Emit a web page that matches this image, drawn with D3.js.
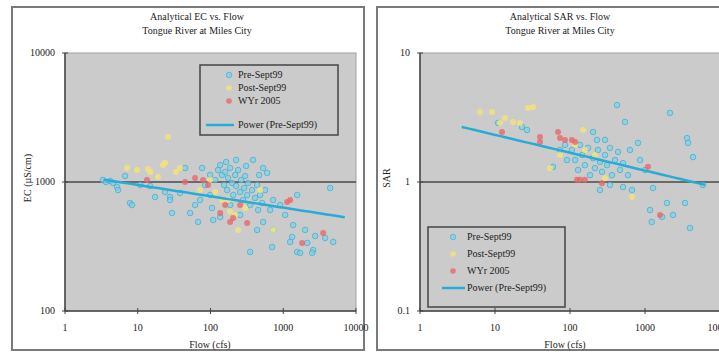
<!DOCTYPE html>
<html><head><meta charset="utf-8">
<script src="https://cdn.jsdelivr.net/npm/d3@7"></script>
<style>body{margin:0;background:#fff}svg{display:block}text{font-family:"Liberation Serif","DejaVu Serif",serif;fill:#222}</style>
</head><body><svg id="c" width="719" height="354"></svg>
<script>
// ---- data: EC vs flow ----
const ecPre = [[3.33,1037],[3.66,1000],[4.16,1019],[4.57,982],[5.19,915],[5.36,866],[7.83,687],[8.35,663],[14.8,931],[23.7,836],[27.8,765],[29.6,575],[27.8,725],[44.7,1284],[52.4,575],[67.5,490],[71.9,725],[76.6,1284],[98.8,1133],[109,508],[116,1037],[127,1239],[136,1355],[144,1133],[154,948],[159,1196],[169,866],[175,1074],[186,1284],[198,982],[205,793],[218,1133],[225,931],[240,1239],[255,836],[264,1037],[281,725],[290,898],[299,1114],[319,793],[329,982],[351,663],[373,866],[385,1482],[410,752],[438,948],[452,607],[481,793],[513,687],[564,866],[601,1175],[661,607],[726,725],[136,535],[438,425],[529,490],[726,425],[1368,464],[1325,375],[2133,337],[2578,297],[351,287],[703,313],[1245,343],[1552,287],[2500,282],[4857,343],[4416,898],[1552,793],[906,663],[1062,555],[255,555],[186,663],[98.8,793],[84.3,948],[105,629],[61.4,663],[38.2,822],[17.3,765],[10.8,948],[6.69,1114],[3770,368],[1708,282],[2748,381],[2001,425],[309,1331],[225,1482],[164,1429],[466,1133],[529,1284]];
const ecPost = [[26.1,2234],[7.13,1284],[9.8,1239],[13.9,1260],[19,1094],[23.7,1407],[33.5,1196],[22.2,1355],[116,836],[175,725],[186,590],[144,725],[299,629],[218,555],[481,866],[726,425],[240,425],[71.9,866],[98.8,1037],[38.2,1284],[14.8,1196]];
const ecWyr = [[13.4,1037],[44.7,1000],[79.1,1037],[92.5,948],[136,575],[186,490],[159,663],[319,481],[1132,700],[1820,337],[3540,403],[1245,725],[255,663],[205,525],[61.4,1074]];
const ecFit = {a:1162, b:-0.088, qMin:3.4, qMax:7000};
// ---- data: SAR vs flow ----
const sarPre = [[423,3.95],[541,2.92],[2154,3.43],[807,2.01],[3631,2.19],[3745,2.01],[4365,1.56],[203,2.44],[11.0,2.87],[22.9,2.67],[26.7,2.53],[59.3,1.31],[91.2,1.48],[106,1.77],[117,1.48],[128,1.24],[145,1.62],[158,1.35],[174,1.84],[185,1.13],[203,1.53],[215,1.28],[236,1.77],[251,1.43],[267,1.20],[293,1.62],[311,1.35],[341,1.84],[363,1.13],[398,1.48],[437,1.71],[464,1.24],[509,1.40],[136,1.94],[229,2.12],[293,2.12],[509,0.914],[671,0.867],[1279,0.898],[5934,0.948],[1166,0.607],[1965,0.687],[2362,0.555],[3415,0.687],[1687,0.536],[251,0.867],[341,0.948],[858,1.48],[1000,1.24],[631,1.77],[593,1.13],[73.6,1.77],[85.8,1.94],[3981,0.44],[1230,0.49]];
const sarPost = [[6.31,3.49],[9.12,3.49],[13.6,3.13],[17.4,2.92],[21.5,2.87],[27.5,3.75],[32.1,3.81],[11.7,2.87],[73.6,1.62],[54.1,1.28],[149,2.53],[671,0.765],[117,1.94],[158,1.77],[215,1.62],[293,1.07]];
const sarWyr = [[12.4,2.44],[39.8,2.23],[39.8,2.04],[69.2,2.44],[73.6,2.19],[85.8,2.12],[106,2.12],[117,2.04],[124,1.04],[158,1.04],[267,0.98],[1096,1.31],[1585,0.555],[136,1.04]];
const sarFit = {a:3.19, b:-0.1384, qMin:3.6, qMax:6300};
// ---- labels ----
const xTicks = [1,10,100,1000,10000];
const ecTicks = [100,1000,10000];
const sarTicks = [0.1,1,10];
const sarTickLabels = ["0.1","1","10"];
const seriesNames = ["Pre-Sept99","Post-Sept99","WYr 2005","Power (Pre-Sept99)"];

const colPre="#86cde4", colPreStroke="#2fb0d6", colPost="#f3e37a", colWyr="#e8676c", colFit="#27acd6";
const svg=d3.select("#c");

function panel(o){
  const g=svg.append("g");
  g.append("rect").attr("x",o.box[0]).attr("y",o.box[1]).attr("width",o.box[2]).attr("height",o.box[3])
    .attr("fill","#fff").attr("stroke","#7a7a7a").attr("stroke-width",2);
  const x=d3.scaleLog().domain([1,10000]).range(o.xr);
  const y=d3.scaleLog().domain(o.yd).range([311,53]);
  g.append("rect").attr("x",o.xr[0]).attr("y",53).attr("width",o.xr[1]-o.xr[0]).attr("height",258)
    .attr("fill","#cbcbcb").attr("stroke","#a0a0a0").attr("stroke-width",1);
  // gridline at middle decade
  g.append("line").attr("x1",o.xr[0]).attr("x2",o.xr[1]).attr("y1",y(o.yd[0]*10)).attr("y2",y(o.yd[0]*10))
    .attr("stroke","#4a4a4a").attr("stroke-width",1.5);
  // axes lines
  g.append("line").attr("x1",o.xr[0]).attr("x2",o.xr[0]).attr("y1",53).attr("y2",311).attr("stroke","#444").attr("stroke-width",1.5);
  g.append("line").attr("x1",o.xr[0]).attr("x2",o.xr[1]).attr("y1",311).attr("y2",311).attr("stroke","#444").attr("stroke-width",1.5);
  // ticks
  xTicks.forEach(t=>{
    g.append("line").attr("x1",x(t)).attr("x2",x(t)).attr("y1",308).attr("y2",314).attr("stroke","#444");
    g.append("text").attr("x",x(t)).attr("y",329).attr("text-anchor","middle").attr("dominant-baseline","middle").attr("font-size",10).text(t);
  });
  o.yt.forEach((t,i)=>{
    g.append("line").attr("x1",o.xr[0]-3).attr("x2",o.xr[0]+3).attr("y1",y(t)).attr("y2",y(t)).attr("stroke","#444");
    g.append("text").attr("x",o.xr[0]-10).attr("y",y(t)+1).attr("text-anchor","end").attr("dominant-baseline","middle").attr("font-size",10).text(o.ytl[i]);
  });
  // titles
  g.append("text").attr("x",o.tx).attr("y",18).attr("text-anchor","middle").attr("dominant-baseline","middle").attr("font-size",10).text(o.t1);
  g.append("text").attr("x",o.tx).attr("y",32).attr("text-anchor","middle").attr("dominant-baseline","middle").attr("font-size",10).text("Tongue River at Miles City");
  g.append("text").attr("x",o.xr[0]+145).attr("y",346).attr("text-anchor","middle").attr("dominant-baseline","middle").attr("font-size",10).text("Flow (cfs)");
  g.append("text").attr("transform",`translate(${o.ylx},178) rotate(-90)`).attr("text-anchor","middle").attr("dominant-baseline","middle").attr("font-size",10).text(o.yl);
  // points
  const pts=g.append("g");
  pts.selectAll(".pre").data(o.pre).join("circle").attr("cx",d=>x(d[0])).attr("cy",d=>y(d[1])).attr("r",2.8)
    .attr("fill",colPre).attr("fill-opacity",0.7).attr("stroke",colPreStroke).attr("stroke-opacity",0.7).attr("stroke-width",1);
  pts.selectAll(".post").data(o.post).join("circle").attr("cx",d=>x(d[0])).attr("cy",d=>y(d[1])).attr("r",3)
    .attr("fill",colPost).attr("fill-opacity",0.85);
  pts.selectAll(".wyr").data(o.wyr).join("circle").attr("cx",d=>x(d[0])).attr("cy",d=>y(d[1])).attr("r",3)
    .attr("fill",colWyr).attr("fill-opacity",0.8);
  // power fit
  const qs=d3.range(0,41).map(i=>Math.pow(10,Math.log10(o.fit.qMin)+i/40*(Math.log10(o.fit.qMax)-Math.log10(o.fit.qMin))));
  g.append("path").datum(qs).attr("fill","none").attr("stroke",colFit).attr("stroke-width",2.5)
    .attr("d",d3.line().x(q=>x(q)).y(q=>y(o.fit.a*Math.pow(q,o.fit.b))));
  // legend
  const L=o.leg;
  g.append("rect").attr("x",L.x).attr("y",L.y).attr("width",L.w).attr("height",L.h).attr("fill","#cbcbcb").attr("stroke","#444").attr("stroke-width",1.5);
  const mk=[[colPre,colPreStroke],[colPost,"none"],[colWyr,"none"]];
  mk.forEach((m,i)=>{
    g.append("circle").attr("cx",L.mx).attr("cy",L.rows[i]).attr("r",2.8).attr("fill",m[0]).attr("stroke",m[1]).attr("fill-opacity",0.8).attr("stroke-opacity",0.6);
    g.append("text").attr("x",L.tx).attr("y",L.rows[i]+1).attr("dominant-baseline","middle").attr("font-size",10).text(seriesNames[i]);
  });
  g.append("line").attr("x1",L.lx[0]).attr("x2",L.lx[1]).attr("y1",L.rows[3]).attr("y2",L.rows[3]).attr("stroke",colFit).attr("stroke-width",2.5);
  g.append("text").attr("x",L.tx).attr("y",L.rows[3]+1).attr("dominant-baseline","middle").attr("font-size",10).text(seriesNames[3]);
}

panel({box:[12,7,352,343],xr:[65,356],yd:[100,10000],yt:ecTicks,ytl:ecTicks.map(String),
  t1:"Analytical EC vs. Flow",tx:197,yl:"EC (µS/cm)",ylx:29,pre:ecPre,post:ecPost,wyr:ecWyr,fit:ecFit,
  leg:{x:200,y:65,w:138,h:70,mx:229,tx:238,lx:[206,234],rows:[75,88,101,125]}});
panel({box:[377,7,360,343],xr:[420,720],yd:[0.1,10],yt:sarTicks,ytl:sarTickLabels,
  t1:"Analytical SAR vs. Flow",tx:560,yl:"SAR",ylx:388,pre:sarPre,post:sarPost,wyr:sarWyr,fit:sarFit,
  leg:{x:428,y:227,w:137,h:80,mx:453,tx:467,lx:[442,465],rows:[237,254,271,288]}});
</script></body></html>
